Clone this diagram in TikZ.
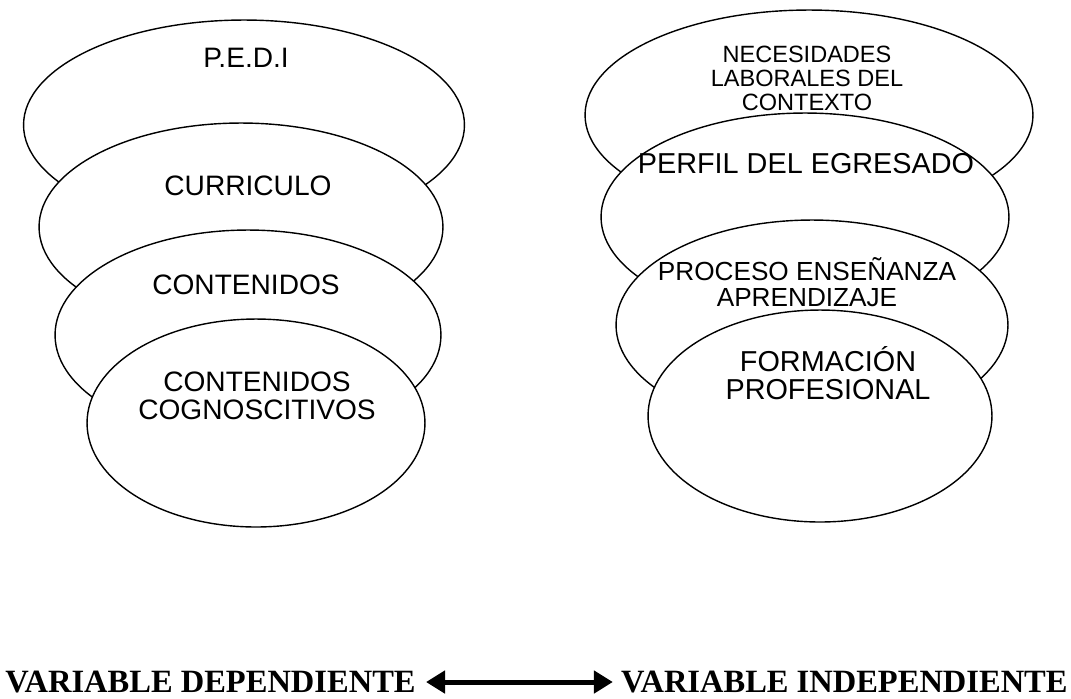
\documentclass[tikz,border=0pt]{standalone}
\usepackage{fontspec}
\setmainfont{Liberation Sans}
\newfontfamily\serifvar{Liberation Serif}
\usetikzlibrary{shapes.geometric, arrows.meta}
\tikzset{
  % Ellipse
  blob/.style={draw, fill=white, shape=ellipse, line width=0.8pt,
    inner sep=0pt},
  % Text inside an ellipse
  txt/.style={align=center, inner sep=0pt,
    font=\fontsize{16}{16}\selectfont},
  % Variable label
  var/.style={inner sep=0pt, font=\serifvar\bfseries\fontsize{18.5}{18.5}\selectfont},
  % Double arrow
  link/.style={{Triangle[length=0.38cm, width=0.44cm]}-{Triangle[length=0.38cm, width=0.44cm]},
    line width=0.1cm, shorten <=0.2cm, shorten >=0.16cm},
}

\begin{document}
\begin{tikzpicture}[x=0.02cm, y=-0.02cm]
    \useasboundingbox (0,0) rectangle (1071,698);

    % Left column
    \node[blob, minimum width=8.82cm, minimum height=4.2cm] (pedi) at (244,125) {};
    \node[txt] (pedit) at (246,58) {P.E.D.I};
    \node[blob, minimum width=8.08cm, minimum height=4.16cm] (curr) at (241,227) {};
    \node[txt] (currt) at (248,186) {CURRICULO};
    \node[blob, minimum width=7.72cm, minimum height=4.2cm] (cont) at (248,335) {};
    \node[txt] (contt) at (246,285) {CONTENIDOS};
    \node[blob, minimum width=6.76cm, minimum height=4.16cm] (cogn) at (256,423) {};
    \node[txt] (cognt) at (257,396) {CONTENIDOS\\COGNOSCITIVOS};

    % Right column
    \node[blob, minimum width=8.96cm, minimum height=4.2cm] (nece) at (809,115) {};
    \node[txt, font=\fontsize{13.4}{13.6}\selectfont] (necet) at (807,78)
      {NECESIDADES\\LABORALES DEL\\CONTEXTO};
    \node[blob, minimum width=8.16cm, minimum height=4.16cm] (perf) at (805,217) {};
    \node[txt, font=\fontsize{16.4}{16.4}\selectfont] (perft) at (806,164)
      {PERFIL DEL EGRESADO};
    \node[blob, minimum width=7.84cm, minimum height=4.2cm] (proc) at (812,325) {};
    \node[txt, font=\fontsize{14.9}{14.9}\selectfont] (proct) at (807,282)
      {PROCESO ENSEÑANZA\\APRENDIZAJE};
    \node[blob, minimum width=6.88cm, minimum height=4.24cm] (form) at (820,416) {};
    \node[txt, font=\fontsize{16.4}{16}\selectfont] (formt) at (828,373)
      {FORMACIÓN\\PROFESIONAL};

    % Variables
    \node[var, anchor=west] (dep) at (5,682) {VARIABLE DEPENDIENTE};
    \node[var, anchor=east] (indep) at (1068,682) {VARIABLE INDEPENDIENTE};
    \draw[link] (dep) -- (indep);
\end{tikzpicture}
\end{document}
